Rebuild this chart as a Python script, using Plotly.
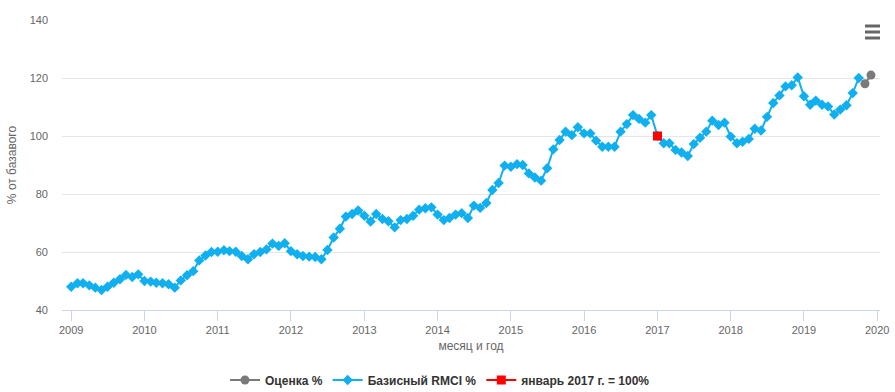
import plotly.graph_objects as go
import pandas as pd

# ---- data ----
start_month = "2009-01-01"
rmci_values = [
    48.0, 49.2, 49.2, 48.5, 47.7, 46.9, 48.0, 49.4, 50.6, 52.1, 51.4, 52.3,   # 2009
    50.0, 49.8, 49.4, 49.2, 48.9, 47.7, 50.2, 52.0, 53.4, 57.1, 58.8, 60.0,   # 2010
    60.1, 60.6, 60.3, 60.1, 58.6, 57.5, 59.2, 60.0, 60.9, 62.9, 62.1, 63.0,   # 2011
    60.3, 59.2, 58.6, 58.4, 58.3, 57.5, 60.7, 65.0, 68.0, 72.2, 73.1, 74.3,   # 2012
    72.5, 70.5, 73.1, 71.4, 70.6, 68.5, 71.0, 71.4, 72.5, 74.6, 75.1, 75.4,   # 2013
    72.9, 71.0, 71.7, 72.9, 73.4, 71.7, 76.0, 75.2, 76.9, 81.4, 83.8, 89.8,   # 2014
    89.4, 90.3, 90.0, 87.1, 85.7, 84.6, 88.9, 95.4, 98.6, 101.5, 100.3, 103.0,  # 2015
    100.9, 100.9, 98.4, 96.3, 96.3, 96.3, 101.5, 104.1, 107.2, 105.9, 104.6, 107.2,  # 2016
    100.0, 97.5, 97.5, 95.2, 94.3, 93.1, 97.2, 99.4, 101.5, 105.3, 103.8, 104.6,  # 2017
    99.8, 97.5, 98.0, 99.0, 102.5, 101.9, 106.6, 111.4, 114.0, 117.1, 117.5, 120.2,  # 2018
    113.7, 110.8, 112.2, 110.8, 110.2, 107.4, 109.1, 110.6, 114.8, 120.0,  # 2019
]
estimate_dates = ["2019-11-01", "2019-12-01"]
estimate_values = [118.0, 121.0]
base_dates = ["2017-01-01"]
base_values = [100.0]
year_ticks = [str(y) for y in range(2009, 2021)]

rmci_dates = pd.date_range(start_month, periods=len(rmci_values), freq="MS")

FONT = "Liberation Sans, Arial, sans-serif"
BLUE = "#10b0f0"
GRAY = "#7a7a7a"
RED = "#ff0000"

fig = go.Figure()
fig.add_trace(go.Scatter(
    x=estimate_dates, y=estimate_values, mode="lines+markers",
    name="Оценка %", line=dict(color=GRAY, width=2),
    marker=dict(symbol="circle", size=9, color=GRAY),
))
fig.add_trace(go.Scatter(
    x=rmci_dates, y=rmci_values, mode="lines+markers",
    name="Базисный RMCI %", line=dict(color=BLUE, width=2),
    marker=dict(symbol="diamond", size=8, color=BLUE),
))
fig.add_trace(go.Scatter(
    x=base_dates, y=base_values, mode="lines+markers",
    name="январь 2017 г. = 100%", line=dict(color=RED, width=2),
    marker=dict(symbol="square", size=9, color=RED),
))

# export menu icon (hamburger)
PL, PR, PT, PB = 62, 880, 20, 310
W = PR - PL
H = PB - PT
shapes = []
for yy in (26, 32, 38):
    shapes.append(dict(
        type="line", xref="paper", yref="paper",
        x0=(865 - PL) / W, x1=(880 - PL) / W,
        y0=(PB - yy) / H, y1=(PB - yy) / H,
        line=dict(color="#666666", width=3),
    ))

fig.update_layout(
    width=895, height=392,
    margin=dict(l=PL, r=895 - PR, t=PT, b=392 - PB, autoexpand=False),
    paper_bgcolor="white", plot_bgcolor="white",
    font=dict(family=FONT, size=11, color="#666666"),
    showlegend=True,
    legend=dict(
        orientation="h", x=(440 - PL) / W, xanchor="center", y=(PB - 380) / H, yanchor="middle",
        font=dict(family=FONT, size=12, color="#333333", weight="bold"),
        itemwidth=30, traceorder="normal",
    ),
    shapes=shapes,
    xaxis=dict(
        type="date", automargin=False,
        range=["2008-11-16", "2020-01-15"],
        tickvals=[f"{y}-01-01" for y in year_ticks],
        ticktext=year_ticks,
        showgrid=False,
        showline=True, linecolor="#ccd6eb", linewidth=1,
        ticks="outside", ticklen=10, tickcolor="#ccd6eb",
        tickfont=dict(family=FONT, size=11, color="#666666"),
        title=dict(text="месяц и год", font=dict(family=FONT, size=12, color="#666666"), standoff=6),
        zeroline=False,
    ),
    yaxis=dict(
        automargin=False,
        range=[40, 140], dtick=20, tick0=40,
        showgrid=True, gridcolor="#e6e6e6", gridwidth=1,
        zeroline=False, showline=False, ticks="",
        ticklabelstandoff=13,
        tickfont=dict(family=FONT, size=11, color="#666666"),
        title=dict(text="% от базавого", font=dict(family=FONT, size=12, color="#666666"), standoff=10),
    ),
)

fig.write_html(
    "out.html",
    config={"displayModeBar": False},
    post_script="document.body.style.margin='0';document.body.style.overflow='hidden';",
)
